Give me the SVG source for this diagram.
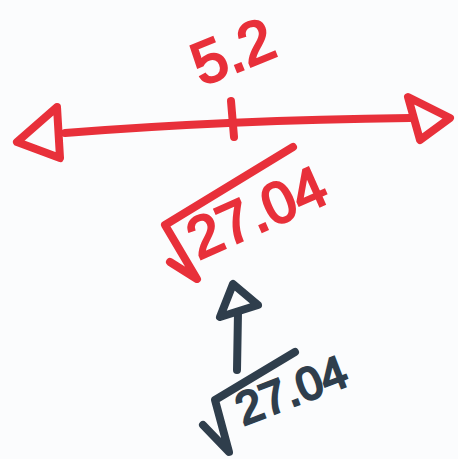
<svg xmlns="http://www.w3.org/2000/svg" width="458" height="459" viewBox="0 0 458 459">
<style>
.red{stroke:#e8303a;fill:none;stroke-width:8;stroke-linecap:round;stroke-linejoin:round}
.dark{stroke:#2f3e4c;fill:none;stroke-width:8;stroke-linecap:round;stroke-linejoin:round}
.tr{fill:#e8303a;stroke:#e8303a;stroke-width:2.5;font-family:"Liberation Sans",Arial,sans-serif;text-anchor:middle}
.td{fill:#2f3e4c;stroke:#2f3e4c;stroke-width:2.5;font-family:"Liberation Sans",Arial,sans-serif;text-anchor:middle}
</style>
<rect width="458" height="459" fill="#fbfcfd"/>
<g id="number-line">
<path class="red" d="M65,133 Q230,120 410,118"/>
<path class="red" d="M57,107 L17,142 L60,158 Z"/>
<path class="red" d="M408,97 L450,118 L420,140 Z"/>
<path class="red" d="M231,101 L234,137"/>
</g>
<g id="label-5-2">
<text class="tr" x="233" y="72" font-size="60" transform="rotate(-22 233 52)">5.2</text>
</g>
<g id="red-root">
<path class="red" d="M293,147 L165,225 L197,279 L170,262"/>
<text class="tr" x="258" y="232" font-size="58" transform="rotate(-24 258 215)">27.04</text>
</g>
<g id="connectors">
<path class="dark" d="M237,370 L238,312"/>
<path class="dark" d="M233,284 L220,317 L258,305 Z"/>
</g>
<g id="dark-root">
<path class="dark" d="M295,352 L215,400 L229,452 L203,425"/>
<text class="td" x="292" y="406" font-size="46" transform="rotate(-21 292 392)">27.04</text>
</g>
</svg>
